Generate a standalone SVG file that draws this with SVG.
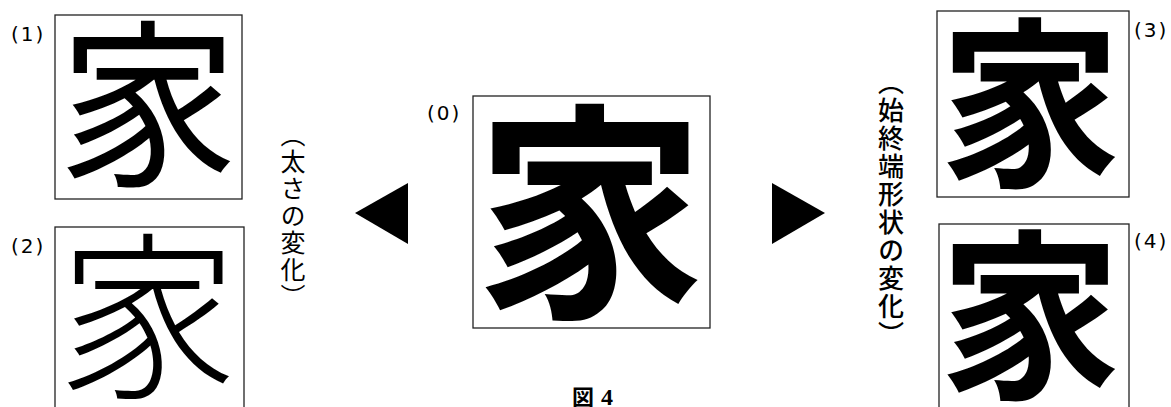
<svg xmlns="http://www.w3.org/2000/svg" width="1171" height="407" viewBox="0 0 1171 407">
<style>
.box{fill:#fff;stroke:#222;stroke-width:1.3}
.kanji{font-family:"Noto Sans CJK JP","Noto Sans CJK SC",sans-serif;fill:#000;text-anchor:middle}
.lbl{font-family:"DejaVu Sans","Liberation Sans",sans-serif;font-size:20px;letter-spacing:2px;fill:#000}
.vt{font-family:"Noto Sans CJK JP",sans-serif;fill:#000;writing-mode:vertical-rl;text-anchor:middle}
.tri{fill:#000}
</style>
<rect width="1171" height="407" fill="#fff"/>
<g id="node0">
<rect class="box" x="473" y="96" width="237" height="232"/>
<text class="kanji" x="590" y="299" font-size="230" font-weight="700">家</text>
<text class="lbl" x="427" y="120">(0)</text>
</g>
<g id="node1">
<rect class="box" x="55" y="15" width="187" height="184"/>
<text class="kanji" x="148" y="172" font-size="180" font-weight="400">家</text>
<text class="lbl" x="11" y="41">(1)</text>
</g>
<g id="node2">
<rect class="box" x="55" y="227" width="189" height="190"/>
<text class="kanji" x="148" y="384" font-size="180" font-weight="200">家</text>
<text class="lbl" x="11" y="253">(2)</text>
</g>
<g id="node3">
<rect class="box" x="937" y="11" width="192" height="186"/>
<text class="kanji" x="1030" y="172" font-size="182" font-weight="700">家</text>
<text class="lbl" x="1134" y="37">(3)</text>
</g>
<g id="node4">
<rect class="box" x="939" y="224" width="190" height="195"/>
<text class="kanji" x="1030" y="384" font-size="182" font-weight="700">家</text>
<text class="lbl" x="1134" y="248">(4)</text>
</g>
<g id="label-thickness">
<text class="vt" x="293" y="216" font-size="25" letter-spacing="2">（太さの変化）</text>
</g>
<g id="label-endshape">
<text class="vt" x="891" y="209" font-size="26" letter-spacing="2" font-weight="500">（始終端形状の変化）</text>
</g>
<g id="connectors">
<polygon class="tri" points="355,213 408,183 408,244"/>
<polygon class="tri" points="772,183 772,244 825,213"/>
</g>
<g id="caption">
<text x="572" y="405" font-family="'Liberation Serif','Noto Sans CJK JP',serif" fill="#000"><tspan font-size="22" font-weight="700">図</tspan><tspan x="601" font-size="24" font-weight="700">4</tspan></text>
</g>
</svg>
